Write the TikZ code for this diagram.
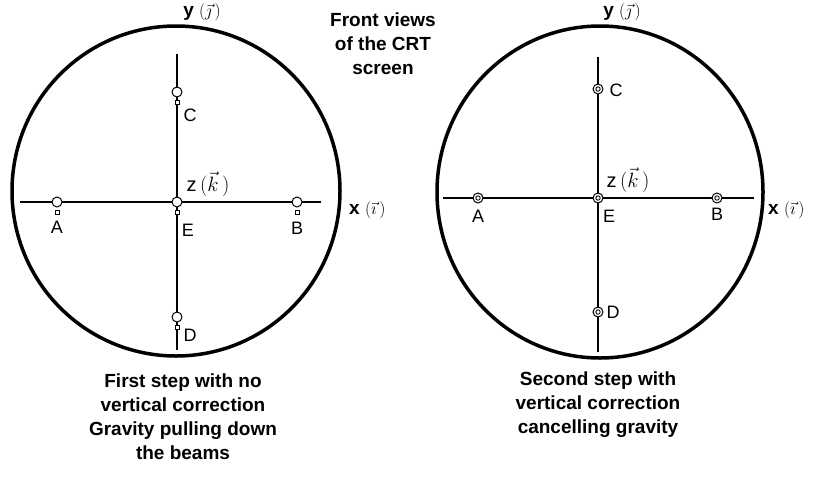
\documentclass[tikz,border=0pt]{standalone}
\usepackage{fontspec}
\setmainfont{Liberation Sans}
\begin{document}
\begin{tikzpicture}[x=1pt,y=-1pt,
  screen/.style={line width=3.5pt},
  axis/.style={line width=1.5pt},
  lbl/.style={font=\fontsize{18}{20}\selectfont, inner sep=0pt},
  vlbl/.style={font=\fontsize{20}{22}\selectfont, inner sep=0pt},
  bold/.style={font=\fontsize{19}{24}\selectfont\bfseries, align=center, inner sep=0pt},
  opendot/.style={circle, draw, fill=white, line width=1pt, minimum size=10pt, inner sep=0pt},
  dbldot/.style={circle, draw, fill=white, line width=1pt, minimum size=10pt, inner sep=0pt,
    path picture={\draw[line width=0.9pt] (path picture bounding box.center) circle (2.2pt);}},
  tinysq/.style={rectangle, draw, fill=white, minimum size=4pt, inner sep=0pt, line width=1pt}]
\useasboundingbox (0,0) rectangle (821,477);
% left screen
\draw[screen] (176,191) ellipse (164 and 165);
\coordinate (lL) at (20,202); \coordinate (lR) at (321,202);
\coordinate (lT) at (177,54); \coordinate (lB) at (177,350);
\draw[axis] (lL) -- (lR);
\draw[axis] (lT) -- (lB);
\node[opendot] (la) at (57,202) {};
\node[opendot] (lb) at (297,202) {};
\node[opendot] (lc) at (177,92) {};
\node[opendot] (ld) at (177,317) {};
\node[opendot] (le) at (177,202) {};
\node[tinysq] (las) at (57,212) {};
\node[tinysq] (lbs) at (297,212) {};
\node[tinysq] (lcs) at (177,102) {};
\node[tinysq] (lds) at (177,327) {};
\node[tinysq] (les) at (177,212) {};
\node[lbl] (laL) at (57,227) {A};
\node[lbl] (lbL) at (297,228) {B};
\node[lbl] (lcL) at (190,115) {C};
\node[lbl] (ldL) at (190,335) {D};
\node[lbl] (leL) at (188,230) {E};
\node[vlbl] (lz) at (208,184) {z$\,(\vec{k}\,)$};
\node[bold, anchor=west] (lx) at (349,210) {x $(\vec{\imath}\,)$};
\node[bold] (ly) at (202,12) {y $(\vec{\jmath}\,)$};
% right screen
\draw[screen] (600,192) ellipse (163 and 166);
\coordinate (rL) at (443,198); \coordinate (rR) at (754,198);
\coordinate (rT) at (598,57); \coordinate (rB) at (598,352);
\draw[axis] (rL) -- (rR);
\draw[axis] (rT) -- (rB);
\node[dbldot] (ra) at (478,198) {};
\node[dbldot] (rb) at (717,198) {};
\node[dbldot] (rc) at (598,89) {};
\node[dbldot] (rd) at (598,312) {};
\node[dbldot] (re) at (598,198) {};
\node[lbl] (raL) at (478,216) {A};
\node[lbl] (rbL) at (717,214) {B};
\node[lbl] (rcL) at (616,90) {C};
\node[lbl] (rdL) at (613,312) {D};
\node[lbl] (reL) at (609,216) {E};
\node[vlbl] (rz) at (628,180) {z$\,(\vec{k}\,)$};
\node[bold, anchor=west] (rx) at (768,210) {x $(\vec{\imath}\,)$};
\node[bold] (ry) at (622,12) {y $(\vec{\jmath}\,)$};
% texts
\node[bold, anchor=north] (title) at (383,13) {Front views\\of the CRT\\screen};
\node[bold, anchor=north] (capL) at (183,374) {First step with no\\vertical correction\\Gravity pulling down\\the beams};
\node[bold, anchor=north] (capR) at (598,372) {Second step with\\vertical correction\\cancelling gravity};
\end{tikzpicture}
\end{document}
